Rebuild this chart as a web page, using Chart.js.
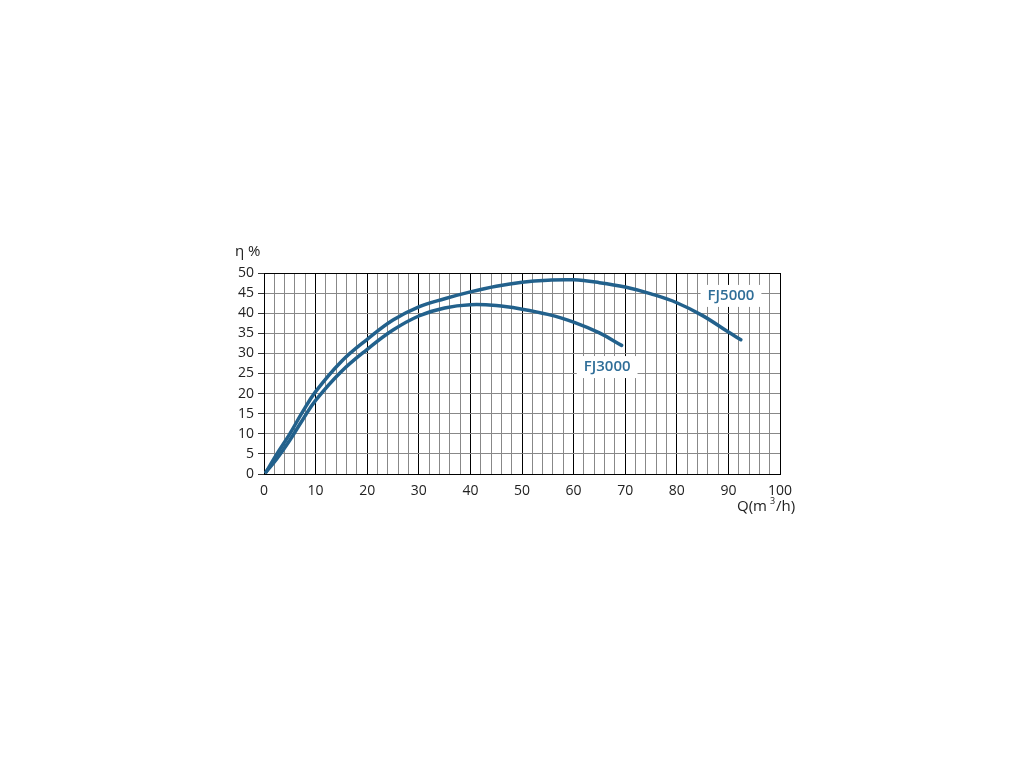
<!DOCTYPE html>
<html>
<head>
<meta charset="utf-8">
<script src="https://cdn.jsdelivr.net/npm/chart.js@4.4.1/dist/chart.umd.min.js"></script>
<style>
body { margin: 0; background: #fff; }
canvas { display: block; }
</style>
</head>
<body>
<canvas id="pumpChart" width="1024" height="768"></canvas>
<script>

// flow Q (m3/h) and efficiency (%)
const q5000 = [0.4, 2.5, 5, 7.5, 10, 15, 20, 25, 30, 35, 40, 45, 50, 55, 60, 65, 70, 75, 80, 85, 90, 92.4];
const eta5000 = [0.5, 5, 10, 15.5, 20.5, 28, 33.5, 38.3, 41.6, 43.6, 45.3, 46.7, 47.7, 48.2, 48.3, 47.6, 46.5, 44.8, 42.6, 39.4, 35.3, 33.4];

const q3000 = [0.4, 2.5, 5, 7.5, 10, 15, 20, 25, 30, 35, 40, 45, 50, 55, 60, 65, 69.3];
const eta3000 = [0.5, 3.8, 8.4, 13.5, 18.3, 25.5, 31, 35.8, 39.3, 41.3, 42.1, 41.9, 41, 39.7, 37.8, 35.1, 32];

const seriesNames = ["FJ5000", "FJ3000"];
// where the name boxes sit, in data units
const labelAt = [[90.5, 44.3], [66.5, 26.6]];

const curveColor = "#22618c";
const textColor = "#2f6e98";

function toPoints(xs, ys) {
    return xs.map((x, i) => ({ x: x, y: ys[i] }));
}

const textPlugin = {
    id: "texts",
    afterDraw(chart) {
        const c = chart.ctx;
        const area = chart.chartArea;
        const xs = chart.scales.x;
        const ys = chart.scales.y;

        c.save();

        // series name boxes
        c.font = "600 15px 'Open Sans'";
        c.textAlign = "center";
        c.textBaseline = "middle";
        seriesNames.forEach((name, i) => {
            const px = xs.getPixelForValue(labelAt[i][0]);
            const py = ys.getPixelForValue(labelAt[i][1]);
            const w = c.measureText(name).width + 14;
            c.fillStyle = "#fff";
            c.fillRect(px - w / 2, py - 11, w, 22);
            c.fillStyle = textColor;
            c.fillText(name, px, py);
        });

        // axis titles
        c.fillStyle = "#222";
        c.font = "15px 'Open Sans'";
        c.textAlign = "left";
        c.fillText("η %", area.left - 29, area.top - 21);

        let x0 = area.right - 43;
        const y0 = area.bottom + 33;
        c.fillText("Q(m", x0, y0);
        x0 += c.measureText("Q(m").width + 3;
        c.font = "9px 'Open Sans'";
        c.fillText("3", x0, y0 - 6);
        x0 += c.measureText("3").width + 1;
        c.font = "15px 'Open Sans'";
        c.fillText("/h)", x0, y0);

        c.restore();
    }
};

new Chart(
document.getElementById("pumpChart"),
{
type: "line",

data: {
datasets: [
{
label: seriesNames[0],
data: toPoints(q5000, eta5000),
borderColor: curveColor,
borderWidth: 3.5,
borderCapStyle: "round",
pointRadius: 0,
tension: 0.4,
fill: false
},
{
label: seriesNames[1],
data: toPoints(q3000, eta3000),
borderColor: curveColor,
borderWidth: 3.5,
borderCapStyle: "round",
pointRadius: 0,
tension: 0.4,
fill: false
}
]
},

options: {
responsive: false,
animation: false,
layout: {
padding: { left: 200, right: 244, top: 273, bottom: 254 }
},
plugins: {
legend: { display: false },
tooltip: { enabled: false }
},
scales: {
x: {
type: "linear",
min: 0,
max: 100,
afterFit: s => { s.height = 40; },
border: { color: "#000", width: 1 },
grid: {
drawTicks: false,
color: ctx => (ctx.tick && ctx.tick.value % 10 === 0) ? "#000" : "#888",
lineWidth: 1
},
ticks: {
stepSize: 2,
autoSkip: false,
maxRotation: 0,
padding: 9,
color: "#222",
font: { family: "'Open Sans'", size: 14 },
callback: v => (v % 10 === 0 ? v : "")
}
},
y: {
min: 0,
max: 50,
afterFit: s => { s.width = 64; },
border: { color: "#000", width: 1 },
grid: {
color: ctx => (ctx.tick && (ctx.tick.value === 0 || ctx.tick.value === 50)) ? "#000" : "#888",
tickColor: "#333",
tickLength: 6,
lineWidth: 1
},
ticks: {
stepSize: 5,
padding: 4,
color: "#222",
font: { family: "'Open Sans'", size: 14 }
}
}
}
},

plugins: [textPlugin]

});

</script>
</body>
</html>
